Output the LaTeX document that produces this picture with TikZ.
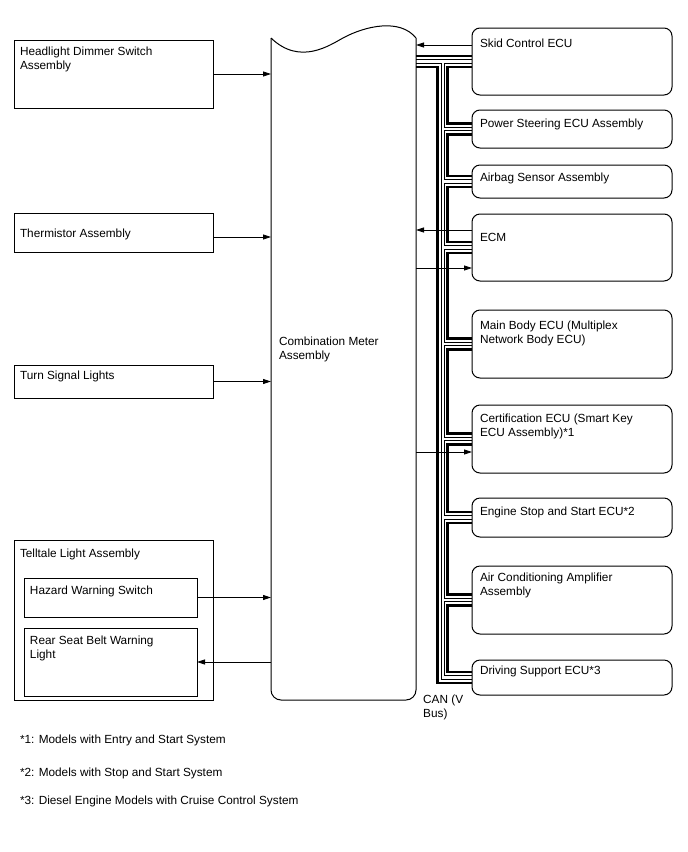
\documentclass[tikz,border=0pt]{standalone}
\usepackage{fontspec}
\setmainfont{Liberation Sans}
\usetikzlibrary{arrows.meta,calc}
\newcommand\btext[4]{\parbox[t][#2pt][t]{#1pt}{\raggedright\rule{0pt}{#3pt}#4}}
\begin{document}
\begin{tikzpicture}[x=1pt,y=-1pt,
  every node/.style={font=\fontsize{11.8}{14}\selectfont},
  box/.style={draw, line width=1pt, anchor=north west, inner xsep=6pt, inner ysep=0pt, outer sep=0pt},
  rbox/.style={box, rounded corners=8pt, inner xsep=8pt},
  arr/.style={line width=0.8pt, -{Triangle[length=8pt,width=5pt]}},
  canthick/.style={line width=2.4pt},
  canthin/.style={line width=0.9pt},
  plain/.style={anchor=base west, inner sep=0pt, outer sep=0pt}]
\useasboundingbox[fill=white] (0,0) rectangle (688,852);

% left boxes
\node[box] (hd) at (14,40) {\btext{187}{68}{15.7}{Headlight Dimmer Switch\\Assembly}};
\node[box] (th) at (14,213) {\btext{187}{39}{24}{Thermistor Assembly}};
\node[box] (ts) at (14,365) {\btext{187}{33}{14}{Turn Signal Lights}};
\node[box] (tt) at (14,540) {\btext{187}{160}{17}{Telltale Light Assembly}};
\node[box] (hz) at (24,578) {\btext{161}{39}{16}{Hazard Warning Switch}};
\node[box] (rs) at (24,628) {\btext{161}{68}{16}{Rear Seat Belt Warning\\Light}};

% combination meter
\node[anchor=north west, inner xsep=8pt, inner ysep=0pt, outer sep=0pt] (meter) at (271,38)
  {\btext{129}{662}{307}{Combination Meter\\Assembly}};
\draw[line width=1pt] (meter.north west) .. controls (300,66) and (330,45) .. (343,38)
  .. controls (365,26) and (400,18) .. (meter.north east);
\draw[line width=1pt, rounded corners=10pt] (meter.north east) -- (meter.south east)
  -- (meter.south west) -- (meter.north west);

% right boxes
\node[rbox] (skid) at (472,28)  {\btext{184}{67}{19}{Skid Control ECU}};
\node[rbox] (ps)   at (472,110) {\btext{184}{38}{17}{Power Steering ECU Assembly}};
\node[rbox] (air)  at (472,165) {\btext{184}{33}{16}{Airbag Sensor Assembly}};
\node[rbox] (ecm)  at (472,214) {\btext{184}{67}{27}{ECM}};
\node[rbox] (mb)   at (472,310) {\btext{184}{68}{19}{Main Body ECU (Multiplex\\Network Body ECU)}};
\node[rbox] (cert) at (472,405) {\btext{184}{68}{17}{Certification ECU (Smart Key\\ECU Assembly)*1}};
\node[rbox] (eng)  at (472,498) {\btext{184}{39}{17}{Engine Stop and Start ECU*2}};
\node[rbox] (ac)   at (472,566) {\btext{184}{68}{15}{Air Conditioning Amplifier\\Assembly}};
\node[rbox] (drv)  at (472,660) {\btext{184}{35}{14}{Driving Support ECU*3}};

% CAN bus
\coordinate (m0) at (skid.west -| meter.east);
\draw[canthick] ($(m0)+(0,-5.5)$) -- ($(skid.west)+(0,-5.5)$);
\draw[canthin] ($(m0)+(0,-1.8)$) -- ($(skid.west)+(0,-1.8)$);
\draw[canthin] ($(m0)+(0,1.8)$) -| ($(drv.west)+(-31,1.8)$) -- ($(drv.west)+(0,1.8)$);
\draw[canthick] ($(m0)+(0,5.5)$) -| ($(drv.west)+(-34.5,5.5)$) -- ($(drv.west)+(0,5.5)$);
\foreach \a/\b in {skid/ps,ps/air,air/ecm,ecm/mb,mb/cert,cert/eng,eng/ac,ac/drv}{
  \draw[canthin] ($(\a.west)+(0,1.8)$) -| ($(\b.west)+(-28,-1.8)$) -- ($(\b.west)+(0,-1.8)$);
  \draw[canthick] ($(\a.west)+(0,5.5)$) -| ($(\b.west)+(-24.5,-5.5)$) -- ($(\b.west)+(0,-5.5)$);
}

% left arrows
\draw[arr] (hd.east) -- (hd.east -| meter.west);
\coordinate (tha) at ([yshift=-4.5pt]th.east);
\draw[arr] (tha) -- (tha -| meter.west);
\draw[arr] (ts.east) -- (ts.east -| meter.west);
\draw[arr] (hz.east) -- (hz.east -| meter.west);
\draw[arr] (rs.east -| meter.west) -- (rs.east);

% right arrows
\coordinate (sa) at ([yshift=16.5pt]skid.west);
\draw[arr] (sa) -- (sa -| meter.east);
\coordinate (ea) at ([yshift=17.5pt]ecm.west);
\draw[arr] (ea) -- (ea -| meter.east);
\coordinate (eb) at ([yshift=-20.5pt]ecm.west);
\draw[arr] (eb -| meter.east) -- (eb);
\coordinate (ca) at ([yshift=-13pt]cert.west);
\draw[arr] (ca -| meter.east) -- (ca);

% labels
\node[anchor=north west, inner sep=0pt] (canl) at (423,692) {\parbox[t]{60pt}{\rule{0pt}{11pt}CAN (V\\Bus)}};
\node[plain] (f1) at (20,743) {*1: Models with Entry and Start System};
\node[plain] (f2) at (20,776) {*2: Models with Stop and Start System};
\node[plain] (f3) at (20,804) {*3: Diesel Engine Models with Cruise Control System};
\end{tikzpicture}
\end{document}
